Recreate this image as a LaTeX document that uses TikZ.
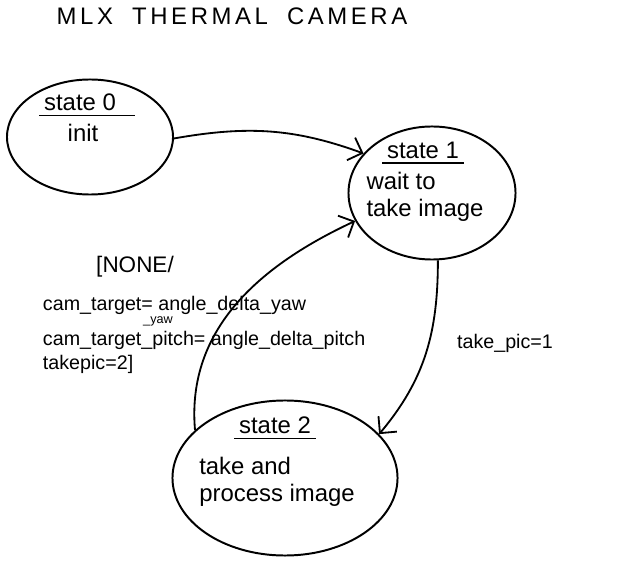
\documentclass[tikz,border=0pt]{standalone}
\usepackage{fontspec}
\setmainfont{Liberation Sans}
\usepackage{tikz}
\usetikzlibrary{shapes.geometric,arrows.meta,positioning,calc}

\begin{document}
\begin{tikzpicture}[x=0.025cm,y=0.025cm,
    state/.style={draw,ellipse,line width=1.4pt,inner sep=0pt},
    head/.style={font=\fontsize{17}{19}\selectfont},
    body/.style={font=\fontsize{17}{19}\selectfont,align=left},
    trans/.style={->,line width=1.3pt},
    lbl/.style={font=\fontsize{14}{17}\selectfont,align=left},
    >={Straight Barb[length=3mm,width=6mm]}]
    \useasboundingbox (0,0) rectangle (624,-563);

    % Title
    \node[font={\fontsize{17}{20}\selectfont\addfontfeatures{LetterSpace=15}}] (title) at (232,-16) {MLX\hspace{0.8em}THERMAL\hspace{0.8em}CAMERA};

    % States
    \node[state,minimum width=4.15cm,minimum height=2.875cm] (s0) at (90,-137) {};
    \node[state,minimum width=4.175cm,minimum height=3.325cm] (s1) at (432,-193) {};
    \node[state,minimum width=5.625cm,minimum height=3.875cm] (s2) at (285,-478) {};

    \node[head] (s0h) at (80,-102) {state 0};
    \draw[line width=1.2pt] (s0h.south west) -- ([xshift=10pt]s0h.south east);
    \node[body] (s0b) at (83,-133) {init};

    \node[head] (s1h) at (423,-150) {state 1};
    \draw[line width=1.2pt] (s1h.south west) -- (s1h.south east);
    \node[body] (s1b) at (425,-197) {wait to\\take image};

    \node[head] (s2h) at (275,-425) {state 2};
    \draw[line width=1.2pt] (s2h.south west) -- (s2h.south east);
    \node[body] (s2b) at (277,-482) {take and\\process image};

    % Transitions
    \draw[trans] (s0.-1) to[out=10,in=160] (s1.150);
    \draw[trans] (s1.-85) to[out=-90,in=50] (s2.25);
    \draw[trans] (s2.152) to[out=95,in=205] (s1.200);

    % Labels
    \node[font=\fontsize{16}{19}\selectfont] (guard) at (135,-267) {[NONE/};
    \node[lbl,anchor=north west] (act) at (38,-291) {cam\_target= angle\_delta\_yaw\\[8pt]cam\_target\_pitch= angle\_delta\_pitch\\takepic=2]};
    \node[font=\fontsize{9}{10}\selectfont] (yaw) at (158,-321) {\_yaw};
    \node[lbl] (cond) at (505,-343) {take\_pic=1};
\end{tikzpicture}
\end{document}
